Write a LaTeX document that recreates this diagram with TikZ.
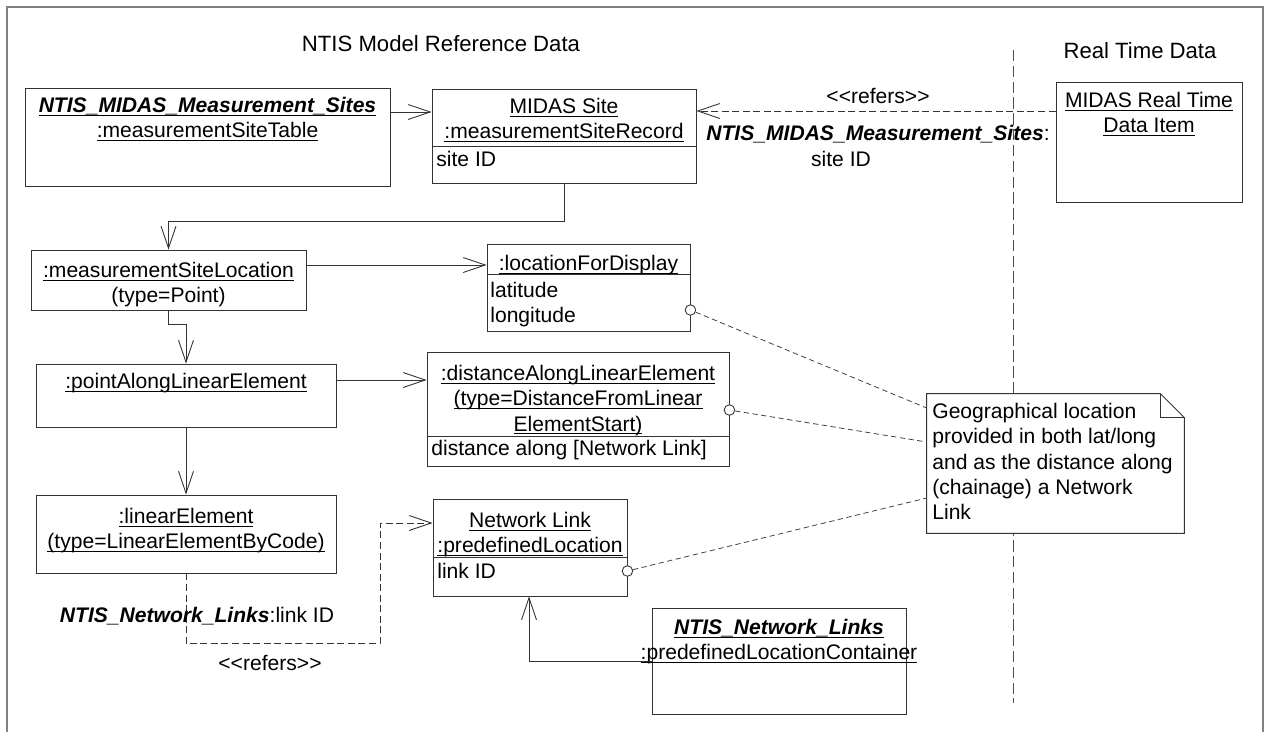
\documentclass[tikz,border=0pt]{standalone}
\usepackage{fontspec}
\setmainfont{Liberation Sans}
\usetikzlibrary{arrows.meta, fit}
\newcommand{\umlfont}{\fontsize{12}{14.4}\selectfont}
\newcommand{\ulined}[1]{\underline{\smash{#1}}\vphantom{#1}}
\newcommand{\bi}[1]{\textbf{\textit{#1}}}
\newcommand{\stereo}[1]{<\kern0pt<#1>\kern0pt>}
\tikzset{box/.style={draw=black!80,line width=0.5pt,inner sep=0pt},txt/.style={inner sep=0pt,align=center,font=\umlfont,anchor=north},attr/.style={inner sep=0pt,align=left,font=\umlfont,anchor=north west},nav/.style={draw=black!80,line width=0.5pt,-{Straight Barb[length=12.5pt,width=8.5pt]}},refers/.style={nav,dash pattern=on 4pt off 2pt},noteline/.style={draw=black!75,line width=0.45pt,dash pattern=on 3pt off 2pt},port/.style={circle,draw=black!80,line width=0.5pt,fill=white,inner sep=0pt,minimum size=6pt},divider/.style={draw=black!70,line width=0.5pt,dash pattern=on 6.5pt off 2.5pt}}

\begin{document}
\begin{tikzpicture}[x=0.02cm, y=-0.02cm]
\useasboundingbox (0,0) rectangle (1267,731);
\draw[black!50, line width=1.2pt] (7,760) -- (7,7) -- (1263,7) -- (1263,760);

% headings and boundary
\node[txt, font=\fontsize{12.6}{15}\selectfont] (reftitle) at (441,35) {NTIS Model Reference Data};
\node[txt, font=\fontsize{12.6}{15}\selectfont] (rttitle) at (1140,42) {Real Time Data};
\draw[divider] (1013,50) -- (1013,703);

% reference data objects
\node[box, fit={(25,88) (390,186)}] (msites) {};
\node[txt] (msites-t) at (msites.north |- 0,97) {\ulined{\bi{NTIS\_MIDAS\_Measurement\_Sites}}\\\ulined{:measurementSiteTable}};
\node[box, fit={(432,89) (696,183)}] (site) {};
\draw[box] (site.west |- 0,146) -- (site.east |- 0,146);
\node[txt] (site-t) at (site.north |- 0,98) {\ulined{MIDAS Site}\\\ulined{:measurementSiteRecord}};
\node[attr] (site-a) at (436,151) {site ID};
\node[box, fit={(31,250) (306,310)}] (msl) {};
\node[txt] (msl-t) at (msl.north |- 0,262) {\ulined{:measurementSiteLocation}\\(type=Point)};
\node[box, fit={(36,364) (336,427)}] (pal) {};
\node[txt] (pal-t) at (pal.north |- 0,373) {\ulined{:pointAlongLinearElement}};
\node[box, fit={(36,495) (336,573)}] (le) {};
\node[txt] (le-t) at (le.north |- 0,508) {\ulined{:linearElement}\\\ulined{(type=LinearElementByCode)}};
\node[box, fit={(487,244) (690,331)}] (lfd) {};
\draw[box] (lfd.west |- 0,274) -- (lfd.east |- 0,274);
\node[txt] (lfd-t) at (lfd.north |- 0,255) {\ulined{:locationForDisplay}};
\node[attr] (lfd-a) at (490,282) {latitude\\longitude};
\node[box, fit={(427,352) (729,466)}] (dal) {};
\draw[box] (dal.west |- 0,436) -- (dal.east |- 0,436);
\node[txt] (dal-t) at (dal.north |- 0,365) {\ulined{:distanceAlongLinearElement}\\\ulined{(type=DistanceFromLinear}\\\ulined{ElementStart)}};
\node[attr] (dal-a) at (431,440) {distance along [Network Link]};
\node[box, fit={(433,499) (627,596)}] (nl) {};
\draw[box] (nl.west |- 0,557) -- (nl.east |- 0,557);
\node[txt] (nl-t) at (nl.north |- 0,512) {\ulined{Network Link}\\\ulined{:predefinedLocation}};
\node[attr] (nl-a) at (437,563) {link ID};
\node[box, fit={(652,608) (906,714)}] (nlc) {};
\node[txt] (nlc-t) at (nlc.north |- 0,619) {\ulined{\bi{NTIS\_Network\_Links}}\\\ulined{:predefinedLocationContainer}};

% real time data
\node[box, fit={(1056,82) (1242,202)}] (rt) {};
\node[txt] (rt-t) at (rt.north |- 0,92) {\ulined{MIDAS Real Time}\\\ulined{Data Item}};

% note
\node[fit={(927,394) (1184,533)}, inner sep=0pt, fill=white] (note) {};
\draw[box] (note.north west) -- ([shift={(-24,0)}]note.north east) -- ([shift={(0,24)}]note.north east) -- (note.south east) -- (note.south west) -- cycle;
\draw[box] ([shift={(-24,0)}]note.north east) |- ([shift={(0,24)}]note.north east);
\node[attr] (note-t) at (932,403) {Geographical location\\provided in both lat/long\\and as the distance along\\(chainage) a Network\\Link};

% ports
\node[port] (p1) at (lfd.east |- 0,310) {};
\node[port] (p2) at (dal.east |- 0,410) {};
\node[port] (p3) at (nl.east |- 0,571) {};
\draw[noteline] (p1) -- (note.west |- 0,408);
\draw[noteline] (p2) -- (note.west |- 0,442);
\draw[noteline] (p3) -- (note.west |- 0,498);

% associations
\draw[nav] (msites.east |- 0,112) -- (site.west |- 0,112);
\draw[nav] (site.south) -- ++(0,38) -| (msl.north);
\draw[nav] (msl.south) -- ++(0,14) -| (pal.north);
\draw[nav] (pal.south) -- (le.north);
\draw[nav] (msl.east |- 0,265) -- (lfd.west |- 0,265);
\draw[nav] (pal.east |- 0,380) -- (dal.west |- 0,380);
\draw[nav] (nlc.west |- 0,661) -| (nl.south -| 529,0);
\draw[refers] (rt.west |- 0,111) -- (site.east |- 0,111);
\draw[refers] (le.south) -- ++(0,70) -| (380,523) -- (nl.west |- 0,523);

% labels
\node[txt] (refers-top) at (878,88) {\stereo{refers}};
\node[txt] (sitekey) at (878,125) {\bi{NTIS\_MIDAS\_Measurement\_Sites}:};
\node[txt] (siteid) at (841,151) {site ID};
\node[txt] (linkkey) at (197,607) {\bi{NTIS\_Network\_Links}:link ID};
\node[txt] (refers-bottom) at (270,655) {\stereo{refers}};
\end{tikzpicture}
\end{document}
